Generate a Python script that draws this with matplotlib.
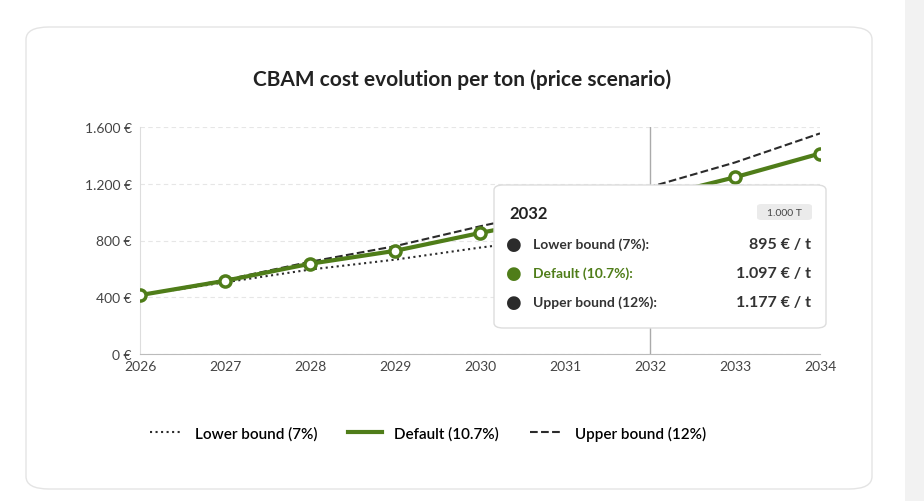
import matplotlib
matplotlib.use("Agg")
import matplotlib.pyplot as plt
from matplotlib.patches import FancyBboxPatch, Rectangle
from matplotlib.ticker import FuncFormatter

plt.rcParams['font.family'] = ['Lato', 'DejaVu Sans']

years = [2026, 2027, 2028, 2029, 2030, 2031, 2032, 2033, 2034]
lower = [415, 505, 595, 665, 750, 825, 895, 975, 1055]
default = [415, 516, 636, 727, 853, 972, 1097, 1246, 1413]
upper = [415, 522, 650, 760, 900, 1030, 1177, 1350, 1555]
yticks = [0, 400, 800, 1200, 1600]
GREEN = '#4f7d19'
DARK = '#2b2b2b'

W, H = 924, 502
fig = plt.figure(figsize=(W/100, H/100), dpi=100)
fig.patch.set_facecolor('white')

def fx(x): return x / W
def fy(y): return 1 - y / H

fig.patches.append(Rectangle((fx(905), 0), fx(19), 1, transform=fig.transFigure,
                             facecolor='#f2f2f2', edgecolor='none', zorder=0))
fig.patches.append(FancyBboxPatch((fx(26), fy(490)), fx(846), fy(28) - fy(490),
                                  boxstyle='round,pad=0,rounding_size=0.025',
                                  transform=fig.transFigure, facecolor='white',
                                  edgecolor='#e4e4e4', lw=1, zorder=0.5))

ax = fig.add_axes([fx(140), fy(355), fx(820) - fx(140), fy(128) - fy(355)])
ax.set_zorder(1)
ax.set_facecolor('none')
ax.set_xlim(2026, 2034)
ax.set_ylim(0, 1600)
ax.set_xticks(years)
ax.set_yticks(yticks)
ax.yaxis.set_major_formatter(FuncFormatter(lambda v, p: f"{int(v):,}".replace(',', '.') + ' €'))
ax.tick_params(axis='both', length=0, labelsize=10, colors='#444444', pad=6)
ax.tick_params(axis='x', pad=4)
for s in ['top', 'right']:
    ax.spines[s].set_visible(False)
ax.spines['left'].set_color('#dddddd')
ax.spines['bottom'].set_color('#bbbbbb')
ax.grid(axis='y', color='#e6e6e6', ls=(0, (4, 3)), lw=0.8)
ax.set_axisbelow(True)

ax.axvline(2032, color='#aaaaaa', lw=1, zorder=1)
ax.plot(years, lower, color=DARK, ls=':', lw=1.5, label='Lower bound (7%)', zorder=2)
ax.plot(years, upper, color=DARK, ls='--', lw=1.5, label='Upper bound (12%)', zorder=2)
ax.plot(years, default, color=GREEN, lw=3, marker='o', ms=8, mfc='white',
        mec=GREEN, mew=2.5, label='Default (10.7%)', zorder=3)

fig.text(0.5, fy(80), 'CBAM cost evolution per ton (price scenario)', ha='center',
         va='center', fontsize=15, fontweight='bold', color='#222222')

h, l = ax.get_legend_handles_labels()
order = [0, 2, 1]
leg = fig.legend([h[i] for i in order], [l[i] for i in order], loc='center',
                 bbox_to_anchor=(fx(428), fy(434)), ncol=3, frameon=False,
                 prop={'size': 11, 'weight': 'semibold'}, handlelength=2.2, columnspacing=2.0)
for line in leg.get_lines():
    line.set_marker('')

fig.patches.append(FancyBboxPatch((fx(494), fy(329)), fx(332), fy(186) - fy(329),
                                  boxstyle='round,pad=0,rounding_size=0.01',
                                  transform=fig.transFigure, facecolor='white',
                                  edgecolor='#dddddd', lw=1, zorder=5))
fig.text(fx(509), fy(214), '2032', fontsize=12, fontweight='bold', color='#222222',
         va='center', zorder=6)
fig.patches.append(FancyBboxPatch((fx(757), fy(221)), fx(55), fy(205) - fy(221),
                                  boxstyle='round,pad=0,rounding_size=0.005',
                                  transform=fig.transFigure, facecolor='#ebebeb',
                                  edgecolor='none', zorder=6))
fig.text(fx(784), fy(213), '1.000 T', fontsize=7.5, color='#444444', ha='center',
         va='center', zorder=7)
rows = [('Lower bound (7%):', '895 € / t', DARK, 245),
        ('Default (10.7%):', '1.097 € / t', GREEN, 274),
        ('Upper bound (12%):', '1.177 € / t', DARK, 303)]
for lab, val, c, y in rows:
    fig.text(fx(514), fy(y), '●', fontsize=13, color=c, ha='center', va='center', zorder=6,
             family='DejaVu Sans')
    fig.text(fx(533), fy(y), lab, fontsize=10, fontweight='bold',
             color=GREEN if c == GREEN else '#333333', va='center', zorder=6)
    fig.text(fx(811), fy(y), val, fontsize=11.5, fontweight='bold', color='#333333',
             ha='right', va='center', zorder=6)

fig.savefig('out.png', dpi=100)
